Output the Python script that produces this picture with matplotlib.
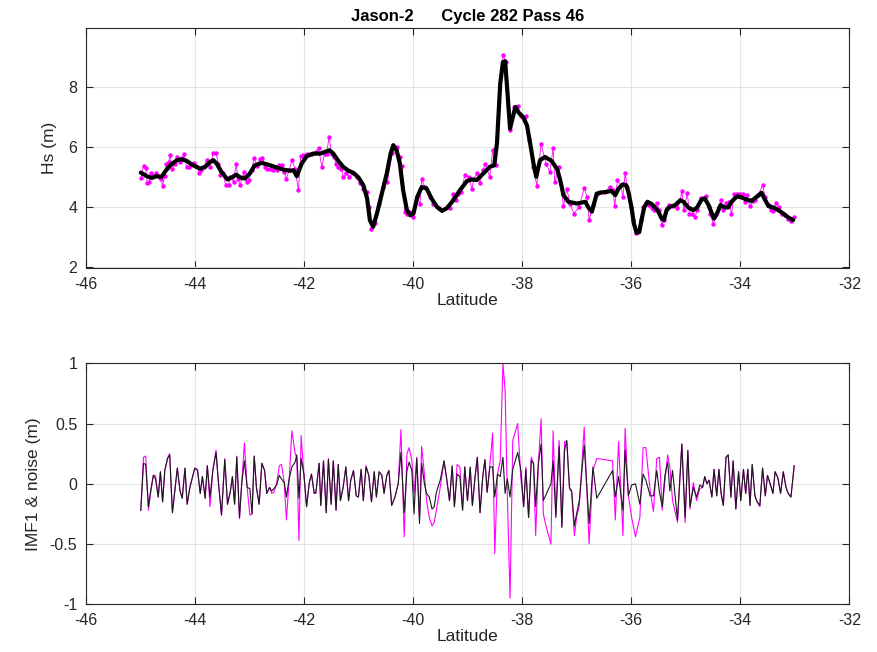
import matplotlib
matplotlib.use("Agg")
import matplotlib.pyplot as plt

plt.rcParams['font.family'] = ['Liberation Sans', 'DejaVu Sans']
plt.rcParams['axes.unicode_minus'] = False

# ---------------- Top panel: raw Hs (magenta) ----------------
lat_raw = [
    -44.99, -44.94, -44.90, -44.87, -44.84, -44.80, -44.76, -44.71, -44.66, -44.62,
    -44.59, -44.55, -44.52, -44.48, -44.45, -44.41, -44.36, -44.33, -44.28, -44.23,
    -44.19, -44.15, -44.10, -44.06, -44.01, -43.97, -43.92, -43.88, -43.83, -43.78,
    -43.72, -43.66, -43.61, -43.57, -43.53, -43.49, -43.43, -43.38, -43.35, -43.29,
    -43.24, -43.21, -43.17, -43.12, -43.10, -43.05, -43.01, -42.96, -42.91, -42.86,
    -42.80, -42.76, -42.71, -42.67, -42.62, -42.57, -42.50, -42.45, -42.41, -42.36,
    -42.32, -42.27, -42.22, -42.16, -42.10, -42.06, -42.01, -41.95, -41.89, -41.85,
    -41.78, -41.73, -41.67, -41.62, -41.58, -41.54, -41.49, -41.45, -41.41, -41.37,
    -41.31, -41.28, -41.22, -41.17, -41.10, -41.03, -40.97, -40.91, -40.85, -40.80,
    -40.76,
    -40.70, -40.63, -40.54, -40.47, -40.38, -40.30, -40.24, -40.20, -40.15, -40.10,
    -40.05, -39.99, -39.93, -39.87, -39.84, -39.78, -39.69, -39.63, -39.53, -39.47,
    -39.38, -39.32, -39.27, -39.21, -39.17, -39.11, -39.05, -38.98, -38.92, -38.88,
    -38.82, -38.77, -38.71, -38.68, -38.59, -38.54, -38.48, -38.35, -38.29, -38.22,
    -38.15, -38.08, -38.01, -37.93, -37.87, -37.79, -37.73, -37.65, -37.56, -37.49,
    -37.43, -37.40, -37.32, -37.24, -37.18, -37.12, -37.05, -36.95, -36.86, -36.81,
    -36.77, -36.70, -36.63,
    -36.57, -36.48, -36.39, -36.33, -36.30, -36.25, -36.19, -36.15, -36.11, -36.07,
    -36.01, -35.96, -35.91, -35.87, -35.82, -35.78, -35.73, -35.67, -35.62, -35.58,
    -35.53, -35.48, -35.44, -35.40, -35.35, -35.30, -35.24, -35.15, -35.10, -35.07,
    -35.03, -34.97, -34.93, -34.89, -34.83, -34.79, -34.71, -34.63, -34.58, -34.55,
    -34.49, -34.44, -34.38, -34.36, -34.31, -34.26, -34.20, -34.16, -34.11, -34.05,
    -34.00, -33.95, -33.91, -33.88, -33.82, -33.77, -33.73, -33.67, -33.59, -33.54,
    -33.48, -33.43, -33.39, -33.34, -33.29, -33.24, -33.18, -33.12, -33.06, -33.01,
]
hs_raw = [
    4.97, 5.37, 5.30, 4.79, 4.82, 5.12, 5.04, 5.15, 5.01, 4.95,
    4.71, 5.04, 5.45, 5.50, 5.74, 5.26, 5.45, 5.67, 5.50, 5.65,
    5.76, 5.32, 5.32, 5.45, 5.47, 5.37, 5.15, 5.25, 5.34, 5.58,
    5.32, 5.80, 5.80, 5.45, 5.06, 5.14, 4.73, 4.73, 5.01, 4.84,
    5.45, 4.95, 4.73, 5.01, 5.17, 4.84, 4.90, 5.23, 5.65, 5.37,
    5.61, 5.65, 5.34, 5.28, 5.28, 5.23, 5.23, 5.39, 5.39, 5.17,
    4.95, 5.23, 5.56, 5.28, 4.56, 5.69, 5.72, 5.78, 5.78, 5.78,
    5.84, 5.95, 5.34, 5.78, 5.78, 6.33, 5.78, 5.67, 5.45, 5.34,
    5.28, 5.01, 5.12, 5.01, 5.12, 5.01, 4.79, 4.62, 4.51, 4.01,
    3.26,
    3.46, 4.12, 4.67, 4.84, 5.80, 6.00, 5.67, 5.36, 3.85, 3.79,
    3.85, 3.68, 4.34, 4.12, 4.92, 4.67, 4.34, 4.12, 3.96, 3.90,
    4.01, 3.96, 4.43, 4.23, 4.45, 4.51, 5.06, 5.01, 4.62, 4.95,
    5.14, 4.81, 5.23, 5.43, 5.01, 5.89, 5.39, 9.04, 8.82, 6.55,
    7.33, 7.36, 7.02, 7.02, 6.22, 5.34, 4.71, 6.09, 5.45, 5.17,
    5.95, 4.84, 5.32, 4.03, 4.62, 4.12, 3.79, 4.01, 4.65, 4.34,
    3.57, 4.07, 4.43,
    4.51, 4.51, 4.67, 4.56, 4.03, 4.90, 4.73, 4.34, 5.12, 4.67,
    4.01, 3.57, 3.13, 3.18, 3.57, 4.01, 4.14, 4.07, 3.96, 3.90,
    4.14, 3.90, 3.40, 3.57, 3.96, 4.07, 4.03, 3.96, 4.23, 4.54,
    3.90, 4.48, 3.77, 3.79, 3.66, 3.90, 4.32, 4.37, 3.99, 3.76,
    3.44, 3.79, 3.99, 4.23, 3.90, 4.14, 4.18, 3.77, 4.43, 4.43,
    4.43, 4.43, 4.18, 4.40, 4.03, 4.21, 4.25, 4.40, 4.73, 4.34,
    4.07, 3.90, 3.88, 4.14, 3.99, 3.79, 3.73, 3.62, 3.54, 3.68,
]

# ---------------- Top panel: denoised Hs (black) ----------------
lat_den = [
    -44.99, -44.88, -44.79, -44.70, -44.61, -44.55, -44.45, -44.33, -44.24, -44.15,
    -44.03, -43.90, -43.81, -43.72, -43.66, -43.60, -43.51, -43.40, -43.32, -43.24,
    -43.17, -43.08, -42.99, -42.90, -42.77, -42.65, -42.50, -42.38, -42.25, -42.19,
    -42.13, -42.04, -41.95, -41.83, -41.70, -41.61, -41.53, -41.46, -41.37, -41.28,
    -41.18, -41.09, -41.00, -40.91, -40.84,
    -40.79, -40.73, -40.66, -40.57, -40.48, -40.41, -40.36, -40.30, -40.24, -40.18,
    -40.11, -40.05, -39.99, -39.92, -39.84, -39.75, -39.66, -39.56, -39.47, -39.38,
    -39.26, -39.14, -39.01, -38.92, -38.83, -38.71, -38.59, -38.51, -38.46, -38.40,
    -38.35, -38.31, -38.27, -38.22, -38.17, -38.12, -38.07, -37.98, -37.91, -37.85,
    -37.79, -37.74, -37.67, -37.58, -37.46, -37.36, -37.30, -37.24, -37.15, -36.99,
    -36.84, -36.79, -36.72, -36.63,
    -36.57, -36.45, -36.36, -36.29, -36.23, -36.15, -36.09, -36.05, -35.99, -35.95,
    -35.90, -35.85, -35.81, -35.76, -35.70, -35.62, -35.56, -35.50, -35.44, -35.40,
    -35.35, -35.29, -35.19, -35.10, -35.04, -34.95, -34.86, -34.79, -34.71, -34.65,
    -34.58, -34.52, -34.48, -34.43, -34.36, -34.28, -34.22, -34.16, -34.06, -33.97,
    -33.88, -33.79, -33.70, -33.61, -33.54, -33.48, -33.39, -33.30, -33.21, -33.12,
    -33.03,
]
hs_den = [
    5.15, 5.03, 4.97, 5.03, 5.01, 5.17, 5.39, 5.56, 5.59, 5.54,
    5.39, 5.28, 5.34, 5.50, 5.56, 5.45, 5.17, 4.92, 4.99, 5.08,
    4.99, 4.95, 5.12, 5.39, 5.47, 5.41, 5.32, 5.25, 5.21, 5.23,
    5.03, 5.45, 5.69, 5.78, 5.78, 5.84, 5.89, 5.78, 5.54, 5.34,
    5.21, 5.14, 4.99, 4.73, 4.29,
    3.57, 3.35, 3.79, 4.45, 5.12, 5.78, 6.06, 5.89, 5.45, 4.56,
    3.90, 3.73, 3.79, 4.34, 4.67, 4.62, 4.29, 4.01, 3.88, 3.96,
    4.23, 4.56, 4.87, 4.92, 4.90, 5.12, 5.34, 5.39, 6.11, 8.10,
    8.82, 8.85, 7.88, 6.61, 6.99, 7.33, 7.16, 6.99, 6.72, 6.11,
    5.45, 5.01, 5.56, 5.67, 5.54, 5.28, 4.90, 4.40, 4.18, 4.12,
    4.18, 4.01, 3.85, 4.45,
    4.48, 4.51, 4.54, 4.40, 4.62, 4.76, 4.73, 4.51, 3.96, 3.46,
    3.15, 3.18, 3.57, 3.99, 4.18, 4.10, 3.99, 3.85, 3.62, 3.57,
    3.90, 4.01, 4.07, 4.23, 4.18, 3.99, 3.90, 3.99, 4.25, 4.29,
    4.07, 3.79, 3.62, 3.77, 4.07, 3.99, 3.99, 4.18, 4.36, 4.32,
    4.25, 4.21, 4.34, 4.48, 4.23, 4.03, 3.99, 3.90, 3.79, 3.66,
    3.57,
]

# ---------------- Bottom panel: IMF1 (magenta) and noise (black) ----------------
lat_b = [
    -44.99, -44.94, -44.90, -44.85, -44.81, -44.76, -44.72, -44.67, -44.63, -44.59,
    -44.55, -44.50, -44.46, -44.41, -44.36, -44.32, -44.27, -44.23, -44.18, -44.14,
    -44.09, -44.04, -44.00, -43.95, -43.90, -43.86, -43.81, -43.77, -43.72, -43.67,
    -43.61, -43.57, -43.51, -43.45, -43.40, -43.35, -43.31, -43.27, -43.23, -43.18,
    -43.14, -43.09, -43.04, -42.99, -42.95, -42.91, -42.87, -42.82, -42.77, -42.72,
    -42.68, -42.63, -42.59, -42.55, -42.50, -42.45, -42.41, -42.36, -42.32, -42.27,
    -42.22, -42.16, -42.13, -42.09, -42.05, -42.00, -41.95, -41.90, -41.86, -41.81,
    -41.78, -41.72, -41.69, -41.64, -41.59, -41.55, -41.50, -41.46, -41.41, -41.37,
    -41.33, -41.28, -41.23, -41.18, -41.14, -41.09, -41.04, -41.00, -40.95, -40.91,
    -40.86, -40.81, -40.76, -40.71, -40.67, -40.62,
    -40.57, -40.53, -40.48, -40.44, -40.39, -40.33, -40.27, -40.22, -40.16, -40.11,
    -40.07, -40.02, -39.98, -39.93, -39.88, -39.84, -39.79, -39.75, -39.70, -39.65,
    -39.61, -39.57, -39.50, -39.43, -39.38, -39.33, -39.28, -39.24, -39.19, -39.14,
    -39.09, -39.05, -39.00, -38.95, -38.91, -38.86, -38.82, -38.77, -38.72, -38.68,
    -38.64, -38.59, -38.54, -38.50, -38.45, -38.40, -38.35, -38.31, -38.27, -38.22,
    -38.17, -38.08, -38.02, -37.97, -37.93, -37.88, -37.83, -37.79, -37.75, -37.70,
    -37.65, -37.61, -37.55, -37.47, -37.43, -37.38, -37.32, -37.27, -37.22, -37.18,
    -37.13, -37.09, -37.04, -37.00, -36.95, -36.86, -36.77, -36.70, -36.63,
    -36.34, -36.29, -36.23, -36.15, -36.11, -36.05, -35.99, -35.92, -35.84, -35.78,
    -35.73, -35.65, -35.59, -35.53, -35.48, -35.43, -35.38, -35.33, -35.29, -35.24,
    -35.15, -35.07, -35.01, -34.96, -34.92, -34.86, -34.80, -34.74, -34.69, -34.65,
    -34.61, -34.57, -34.52, -34.48, -34.43, -34.39, -34.35, -34.31, -34.26, -34.22,
    -34.17, -34.13, -34.08, -34.03, -33.99, -33.94, -33.90, -33.86, -33.82, -33.78,
    -33.73, -33.69, -33.64, -33.59, -33.54, -33.50, -33.45, -33.40, -33.36, -33.31,
    -33.26, -33.21, -33.16, -33.12, -33.07, -33.01,
]
imf1 = [
    -0.22, 0.22, 0.23, -0.22, -0.08, 0.07, 0.07, -0.11, 0.10, -0.15,
    0.11, 0.21, 0.25, -0.24, -0.03, 0.13, -0.06, -0.12, 0.13, -0.17,
    -0.03, 0.06, 0.13, 0.12, -0.08, 0.06, -0.12, 0.15, -0.19, 0.11,
    0.28, 0.03, -0.26, 0.21, -0.17, -0.07, 0.06, -0.17, 0.23, -0.29,
    0.00, 0.34, -0.03, -0.26, -0.25, 0.23, -0.03, -0.17, 0.17, 0.11,
    -0.08, -0.03, -0.08, -0.07, 0.00, 0.15, 0.16, 0.01, -0.30, 0.03,
    0.44, 0.25, 0.22, -0.47, 0.40, 0.08, -0.19, 0.01, 0.08, -0.08,
    -0.08, 0.17, -0.18, 0.19, -0.24, 0.21, -0.17, 0.19, -0.22, 0.16,
    -0.14, -0.03, 0.14, -0.14, 0.03, 0.11, -0.10, -0.11, 0.12, -0.14,
    0.15, 0.07, -0.15, 0.10, -0.11, 0.10,
    0.07, -0.08, 0.07, 0.11, -0.18, -0.11, 0.00, 0.45, -0.44, 0.25,
    0.30, 0.19, -0.08, 0.22, -0.28, 0.31, 0.08, -0.14, -0.28, -0.35,
    -0.32, -0.22, -0.03, 0.19, 0.03, -0.14, 0.14, -0.19, 0.16, 0.14,
    -0.22, 0.14, -0.14, 0.13, -0.18, 0.06, 0.22, -0.24, 0.06, 0.20,
    -0.07, 0.15, 0.42, -0.58, 0.08, 0.19, 1.00, 0.77, -0.08, -0.95,
    0.36, 0.50, 0.04, -0.19, 0.14, -0.28, 0.22, 0.17, -0.43, 0.17,
    0.54, -0.25, -0.37, -0.50, 0.44, -0.26, 0.36, -0.36, 0.35, 0.35,
    -0.04, -0.07, -0.43, -0.28, -0.18, 0.47, -0.50, 0.11, 0.21,
    0.19, -0.30, 0.35, -0.43, 0.46, -0.10, -0.28, -0.44, -0.28, 0.30,
    0.30, -0.06, -0.23, 0.21, 0.22, -0.22, 0.03, 0.24, 0.14, -0.14,
    -0.32, 0.33, -0.32, 0.27, -0.21, 0.01, -0.14, -0.04, -0.03, 0.06,
    0.00, 0.03, -0.11, 0.12, -0.10, 0.12, -0.08, -0.18, 0.22, 0.24,
    -0.11, 0.19, -0.21, 0.10, -0.14, 0.12, -0.08, 0.12, -0.18, 0.16,
    -0.10, -0.15, -0.19, 0.13, -0.10, 0.07, 0.00, -0.08, 0.10, 0.05,
    -0.08, 0.10, -0.03, -0.08, -0.11, 0.15,
]
noise = [
    -0.22, 0.17, 0.16, -0.19, -0.06, 0.07, 0.04, -0.11, 0.10, -0.15,
    0.11, 0.21, 0.24, -0.24, -0.03, 0.13, -0.06, -0.12, 0.13, -0.17,
    -0.03, 0.06, 0.13, 0.11, -0.08, 0.06, -0.12, 0.15, -0.11, 0.11,
    0.26, 0.03, -0.26, 0.20, -0.17, -0.07, 0.06, -0.17, 0.22, -0.28,
    0.00, 0.19, -0.03, -0.04, -0.25, 0.23, -0.03, -0.17, 0.17, 0.11,
    -0.08, -0.03, -0.06, -0.04, -0.01, 0.07, 0.04, 0.01, -0.11, 0.04,
    0.14, 0.18, 0.24, -0.12, 0.21, 0.08, -0.19, 0.01, 0.08, -0.08,
    -0.07, 0.17, -0.18, 0.19, -0.24, 0.20, -0.17, 0.19, -0.22, 0.16,
    -0.14, -0.03, 0.14, -0.14, 0.03, 0.11, -0.10, -0.11, 0.12, -0.14,
    0.14, 0.07, -0.15, 0.10, -0.11, 0.10,
    0.07, -0.08, 0.07, 0.11, -0.18, -0.11, 0.00, 0.26, -0.24, 0.11,
    0.18, 0.11, -0.25, 0.21, -0.33, 0.17, 0.00, -0.08, -0.11, -0.21,
    -0.19, -0.07, 0.03, 0.19, 0.04, -0.14, 0.15, -0.19, 0.08, 0.06,
    -0.22, 0.14, -0.14, 0.14, -0.18, 0.06, 0.22, -0.24, 0.06, 0.20,
    -0.07, 0.14, 0.14, -0.11, 0.08, 0.06, 0.22, -0.08, 0.04, -0.11,
    0.12, 0.26, 0.11, -0.19, 0.12, -0.28, 0.19, 0.17, -0.19, 0.17,
    0.33, -0.14, -0.08, 0.00, 0.19, -0.28, 0.31, -0.36, 0.28, 0.36,
    -0.03, -0.06, -0.35, -0.25, -0.14, 0.32, -0.33, 0.14, -0.12,
    0.11, -0.11, 0.06, -0.22, 0.28, -0.10, -0.01, 0.00, -0.17, 0.08,
    0.03, -0.10, -0.10, 0.11, -0.07, -0.19, 0.07, 0.18, -0.06, 0.11,
    -0.30, 0.33, -0.28, 0.28, -0.19, -0.03, -0.11, -0.01, -0.03, 0.06,
    0.00, 0.03, -0.11, 0.12, -0.10, 0.12, -0.08, -0.18, 0.22, 0.24,
    -0.11, 0.19, -0.21, 0.10, -0.14, 0.12, -0.08, 0.12, -0.18, 0.16,
    -0.10, -0.15, -0.18, 0.13, -0.10, 0.07, 0.00, -0.08, 0.10, 0.05,
    -0.08, 0.10, -0.03, -0.08, -0.11, 0.15,
]

x_ticks = [-46, -44, -42, -40, -38, -36, -34, -32]
top_yticks = [2, 4, 6, 8]
bot_yticks = [-1, -0.5, 0, 0.5, 1]
bot_yticklabels = ['-1', '-0.5', '0', '0.5', '1']

MAG = '#FF00FF'
AX = '#262626'

fig = plt.figure(figsize=(8.78, 6.52), dpi=100)
ax1 = fig.add_axes([0.0976, 0.5885, 0.8697, 0.3680])
ax2 = fig.add_axes([0.0976, 0.0732, 0.8697, 0.3696])


def style(ax):
    for s in ax.spines.values():
        s.set_color(AX)
        s.set_linewidth(0.8)
    ax.tick_params(direction='in', length=5, width=0.8, colors=AX,
                   top=True, right=True, labelsize=11.5, pad=6)
    ax.grid(True, color='#e3e3e3', linewidth=0.8)
    ax.set_axisbelow(True)
    ax.set_xlim(-46, -32)
    ax.set_xticks(x_ticks)
    ax.set_xticklabels([str(t) for t in x_ticks])


# top
style(ax1)
ax1.plot(lat_raw, hs_raw, '-', color=MAG, lw=0.6, marker='o', ms=2.2,
         mfc=MAG, mec=MAG)
ax1.plot(lat_den, hs_den, '-', color='black', lw=3.0,
         solid_joinstyle='round', solid_capstyle='round')
ax1.set_ylim(1.97, 9.94)
ax1.set_yticks(top_yticks)
ax1.set_yticklabels([str(t) for t in top_yticks])
ax1.set_xlabel('Latitude', fontsize=12.5, color=AX, labelpad=1)
ax1.set_ylabel('Hs (m)', fontsize=12.5, color=AX, labelpad=8)
ax1.set_title('Jason-2      Cycle 282 Pass 46', fontsize=12, fontweight='bold',
              color='black', pad=5)

# bottom
style(ax2)
ax2.plot(lat_b, imf1, '-', color=MAG, lw=0.8)
ax2.plot(lat_b, noise, '-', color='#1a1a1a', lw=0.8)
ax2.set_ylim(-1, 1)
ax2.set_yticks(bot_yticks)
ax2.set_yticklabels(bot_yticklabels)
ax2.set_xlabel('Latitude', fontsize=12.5, color=AX, labelpad=1)
ax2.set_ylabel('IMF1 & noise (m)', fontsize=12.5, color=AX, labelpad=6)

fig.savefig('out.png', dpi=100)
